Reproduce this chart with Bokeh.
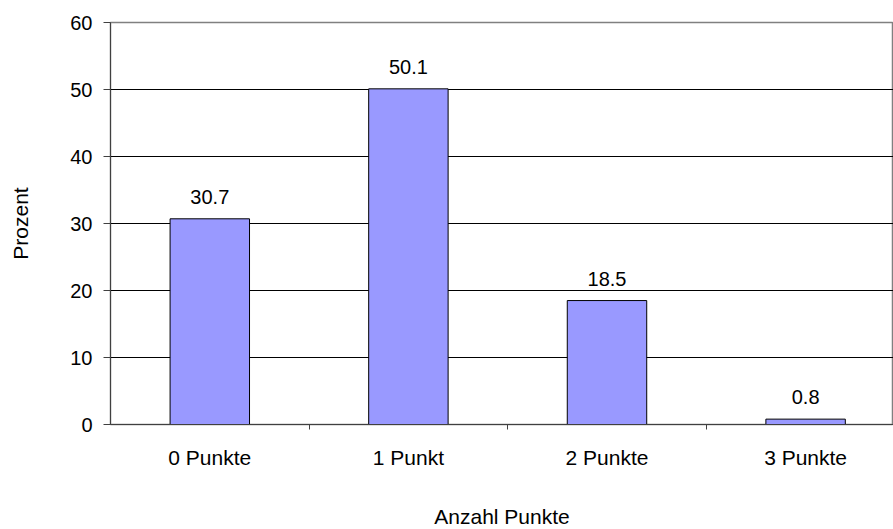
from bokeh.plotting import figure
from bokeh.models import FixedTicker, Range1d, ColumnDataSource
from bokeh.core.properties import value
from bokeh.embed import file_html
from bokeh.resources import INLINE

categories = ["0 Punkte", "1 Punkt", "2 Punkte", "3 Punkte"]
percent = [30.7, 50.1, 18.5, 0.8]
y_ticks = [0, 10, 20, 30, 40, 50, 60]

FONT = "Liberation Sans"
xs = list(range(len(categories)))
src = ColumnDataSource(dict(x=xs, top=percent, label=[f"{v:.1f}" for v in percent]))

p = figure(width=893, height=529, output_backend="svg", toolbar_location=None,
           x_range=Range1d(-0.5, 3.4426), y_range=Range1d(0, 60),
           min_border_left=110, min_border_top=22, min_border_right=0, min_border_bottom=105)
p.frame_width = 783
p.frame_height = 402

p.vbar(x="x", top="top", width=0.4, bottom=0, source=src,
       fill_color="#9999FF", line_color="black", line_width=1)
p.text(x="x", y="top", text="label", source=src, text_align="center",
       text_baseline="alphabetic", y_offset=-22, text_font=value(FONT),
       text_font_size="20px", text_color="black")

p.xgrid.visible = False
p.ygrid.grid_line_color = "black"
p.ygrid.grid_line_width = 1
p.ygrid.ticker = FixedTicker(ticks=y_ticks)
p.outline_line_color = "#808080"
p.outline_line_width = 1.5
p.background_fill_color = "white"
p.border_fill_color = "white"

xa = p.xaxis[0]
xa.ticker = FixedTicker(ticks=xs, minor_ticks=[0.5, 1.5, 2.5])
xa.major_label_overrides = {i: c for i, c in enumerate(categories)}
xa.major_tick_out = 0
xa.major_tick_in = 0
xa.minor_tick_out = 5
xa.minor_tick_in = 0
xa.minor_tick_line_color = "#404040"
xa.axis_line_color = "#404040"
xa.major_label_text_font = FONT
xa.major_label_text_font_size = "21px"
xa.major_label_text_color = "black"
xa.major_label_standoff = 16
xa.axis_label = "Anzahl Punkte"
xa.axis_label_text_font = FONT
xa.axis_label_text_font_size = "21px"
xa.axis_label_text_font_style = "normal"
xa.axis_label_text_color = "black"
xa.axis_label_standoff = 33

ya = p.yaxis[0]
ya.ticker = FixedTicker(ticks=y_ticks)
ya.minor_tick_line_color = None
ya.major_tick_out = 7
ya.major_tick_in = 0
ya.major_tick_line_color = "#404040"
ya.axis_line_color = "#404040"
ya.major_label_text_font = FONT
ya.major_label_text_font_size = "20px"
ya.major_label_text_color = "black"
ya.major_label_standoff = 11
ya.axis_label = "Prozent"
ya.axis_label_text_font = FONT
ya.axis_label_text_font_size = "21px"
ya.axis_label_text_font_style = "normal"
ya.axis_label_text_color = "black"
ya.axis_label_standoff = 35

open("out.html", "w").write(file_html(p, INLINE))
